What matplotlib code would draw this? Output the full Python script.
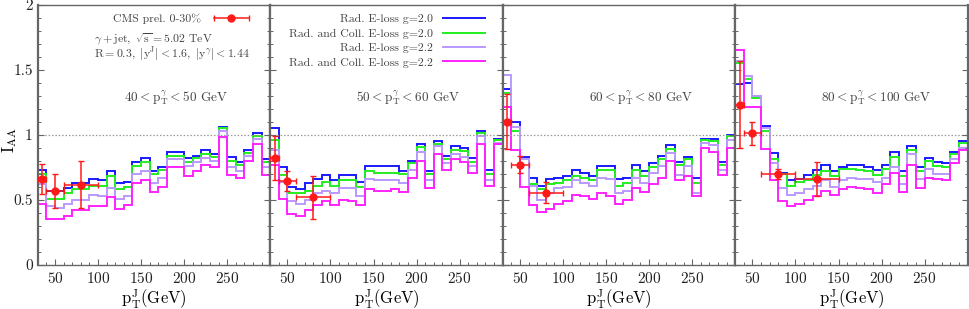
import numpy as np
import matplotlib
matplotlib.use('Agg')
import matplotlib.pyplot as plt
from matplotlib.ticker import MultipleLocator, FixedLocator
from matplotlib.lines import Line2D
from matplotlib.legend_handler import HandlerLine2D, HandlerTuple

plt.rcParams['font.family'] = 'cmr10'
plt.rcParams['mathtext.fontset'] = 'cm'
plt.rcParams['axes.formatter.use_mathtext'] = True

# ---------------- data ----------------
edges = np.arange(30, 301, 10)
panel_titles = [r'$40 < \mathrm{p_T^{\gamma}} < 50$ GeV',
                r'$50 < \mathrm{p_T^{\gamma}} < 60$ GeV',
                r'$60 < \mathrm{p_T^{\gamma}} < 80$ GeV',
                r'$80 < \mathrm{p_T^{\gamma}} < 100$ GeV']

rad_g20 = [
    [0.73, 0.57, 0.57, 0.59, 0.63, 0.63, 0.66, 0.65, 0.72, 0.63, 0.64, 0.79, 0.82, 0.72, 0.75,
     0.87, 0.87, 0.82, 0.84, 0.88, 0.85, 1.06, 0.83, 0.79, 0.88, 1.01, 0.81],
    [1.05, 0.75, 0.60, 0.58, 0.63, 0.66, 0.69, 0.65, 0.69, 0.69, 0.64, 0.76, 0.76, 0.76, 0.76,
     0.72, 0.80, 0.93, 0.72, 0.95, 0.84, 0.91, 0.90, 0.82, 1.03, 0.73, 0.97],
    [1.35, 1.10, 0.83, 0.67, 0.61, 0.66, 0.67, 0.68, 0.73, 0.71, 0.68, 0.76, 0.76, 0.66, 0.67,
     0.77, 0.72, 0.78, 0.84, 0.92, 0.79, 0.83, 0.67, 0.97, 0.97, 0.79, 1.00],
    [1.39, 1.40, 1.30, 1.07, 0.86, 0.71, 0.65, 0.66, 0.69, 0.73, 0.77, 0.72, 0.755, 0.77, 0.77,
     0.755, 0.73, 0.77, 0.87, 0.72, 0.91, 0.75, 0.82, 0.79, 0.78, 0.87, 0.95],
]
radcoll_g20 = [
    [0.70, 0.51, 0.51, 0.55, 0.58, 0.58, 0.61, 0.61, 0.68, 0.58, 0.60, 0.76, 0.79, 0.70, 0.73,
     0.84, 0.84, 0.79, 0.82, 0.85, 0.83, 1.05, 0.80, 0.77, 0.86, 0.99, 0.79],
    [0.96, 0.69, 0.55, 0.55, 0.57, 0.61, 0.64, 0.61, 0.65, 0.65, 0.60, 0.72, 0.71, 0.71, 0.71,
     0.70, 0.78, 0.905, 0.695, 0.93, 0.815, 0.885, 0.875, 0.79, 1.01, 0.70, 0.96],
    [1.32, 1.03, 0.81, 0.62, 0.58, 0.62, 0.63, 0.65, 0.68, 0.67, 0.65, 0.73, 0.73, 0.61, 0.63,
     0.73, 0.68, 0.75, 0.815, 0.89, 0.77, 0.81, 0.63, 0.96, 0.95, 0.77, 0.99],
    [1.55, 1.43, 1.28, 1.03, 0.81, 0.70, 0.61, 0.64, 0.65, 0.69, 0.72, 0.685, 0.74, 0.74, 0.73,
     0.72, 0.69, 0.74, 0.83, 0.685, 0.88, 0.72, 0.80, 0.76, 0.75, 0.85, 0.935],
]
rad_g22 = [
    [0.62, 0.45, 0.44, 0.47, 0.50, 0.50, 0.54, 0.53, 0.59, 0.51, 0.53, 0.70, 0.72, 0.63, 0.67,
     0.81, 0.81, 0.76, 0.79, 0.82, 0.80, 1.03, 0.75, 0.72, 0.84, 0.97, 0.75],
    [0.88, 0.64, 0.49, 0.47, 0.50, 0.55, 0.57, 0.55, 0.59, 0.59, 0.53, 0.66, 0.65, 0.65, 0.65,
     0.63, 0.73, 0.87, 0.65, 0.91, 0.78, 0.85, 0.83, 0.76, 0.99, 0.65, 0.94],
    [1.46, 1.06, 0.81, 0.61, 0.50, 0.55, 0.59, 0.60, 0.65, 0.63, 0.61, 0.67, 0.66, 0.55, 0.57,
     0.67, 0.63, 0.705, 0.76, 0.86, 0.69, 0.76, 0.55, 0.94, 0.92, 0.73, 0.96],
    [1.57, 1.45, 1.30, 1.05, 0.78, 0.59, 0.535, 0.55, 0.58, 0.61, 0.65, 0.60, 0.65, 0.67, 0.66,
     0.66, 0.64, 0.67, 0.75, 0.62, 0.85, 0.66, 0.74, 0.70, 0.70, 0.81, 0.90],
]
radcoll_g22 = [
    [0.47, 0.35, 0.35, 0.38, 0.42, 0.42, 0.45, 0.45, 0.52, 0.43, 0.46, 0.63, 0.65, 0.56, 0.60,
     0.75, 0.75, 0.68, 0.72, 0.77, 0.75, 0.98, 0.69, 0.67, 0.80, 0.93, 0.69],
    [0.77, 0.51, 0.39, 0.38, 0.42, 0.46, 0.49, 0.46, 0.50, 0.49, 0.46, 0.58, 0.57, 0.57, 0.58,
     0.56, 0.67, 0.80, 0.59, 0.85, 0.73, 0.81, 0.79, 0.71, 0.93, 0.61, 0.93],
    [1.21, 0.88, 0.60, 0.46, 0.41, 0.43, 0.47, 0.49, 0.54, 0.53, 0.51, 0.55, 0.53, 0.47, 0.50,
     0.59, 0.56, 0.62, 0.67, 0.80, 0.65, 0.68, 0.53, 0.90, 0.87, 0.69, 0.90],
    [1.65, 1.21, 1.21, 0.89, 0.65, 0.49, 0.45, 0.47, 0.50, 0.53, 0.57, 0.535, 0.58, 0.60, 0.595,
     0.58, 0.555, 0.62, 0.71, 0.56, 0.77, 0.59, 0.67, 0.66, 0.65, 0.78, 0.88],
]

# CMS preliminary points (0-30%)
cms_x = [[35, 50, 80], [35, 50, 80], [35, 50, 80], [35, 50, 80, 125]]
cms_xlo = [[30, 40, 60], [30, 40, 60], [30, 40, 60], [30, 40, 60, 100]]
cms_xhi = [[40, 60, 100], [40, 60, 100], [40, 60, 100], [40, 60, 100, 150]]
cms_y = [[0.66, 0.565, 0.615], [0.82, 0.645, 0.52], [1.10, 0.77, 0.556], [1.23, 1.01, 0.70, 0.66]]
cms_err = [[0.115, 0.13, 0.18], [0.17, 0.08, 0.165], [0.21, 0.065, 0.08], [0.335, 0.09, 0.04, 0.13]]

series_labels = ['Rad. E-loss g=2.0', 'Rad. and Coll. E-loss g=2.0',
                 'Rad. E-loss g=2.2', 'Rad. and Coll. E-loss g=2.2']
series_colors = ['#1a1aff', '#22ee22', '#bb99ff', '#ff22ff']
red = '#ff1a1a'
txt_col = '#444444'

# ---------------- figure ----------------
W, H = 969, 309
fig = plt.figure(figsize=(W / 100, H / 100), dpi=100)
left_px, right_px = 37.7, 967.7
top_px, bot_px = 4.5, 265.0
pw = (right_px - left_px) / 4
grey = '#666666'

axes = []
for i in range(4):
    ax = fig.add_axes([(left_px + i * pw) / W, 1 - bot_px / H, pw / W, (bot_px - top_px) / H])
    axes.append(ax)

for i, ax in enumerate(axes):
    series = [rad_g20[i], radcoll_g20[i], rad_g22[i], radcoll_g22[i]]
    for vals, c, lab in zip(series, series_colors, series_labels):
        ax.stairs(vals, edges, color=c, lw=1.4, label=lab, baseline=None)
    ax.axhline(1.0, color='#999999', lw=0.9, ls=(0, (1.2, 1.5)), zorder=1)
    x = np.array(cms_x[i]); y = np.array(cms_y[i])
    xerr = [x - np.array(cms_xlo[i]), np.array(cms_xhi[i]) - x]
    ax.errorbar(x, y, yerr=cms_err[i], xerr=xerr, fmt='o', color=red, ms=5,
                elinewidth=1.1, capsize=2, capthick=1.0, zorder=5)
    ax.set_xlim(30, 300)
    ax.set_ylim(0, 2)
    ax.xaxis.set_major_locator(FixedLocator([50, 100, 150, 200, 250]))
    ax.xaxis.set_minor_locator(MultipleLocator(10))
    ax.yaxis.set_major_locator(MultipleLocator(0.5))
    ax.yaxis.set_minor_locator(MultipleLocator(0.1))
    ax.tick_params(which='both', direction='in', left=True, right=True, top=False,
                   bottom=True, color=grey, labelsize=11, labelcolor='#222222')
    ax.tick_params(which='major', length=4, width=0.8)
    ax.tick_params(which='minor', length=2.5, width=0.7)
    ax.tick_params(axis='x', pad=4)
    for s in ax.spines.values():
        s.set_color(grey)
        s.set_linewidth(1.0)
    ax.spines['left'].set_linewidth(1.6)
    ax.spines['right'].set_linewidth(1.6)
    if i > 0:
        ax.set_yticklabels([])
    else:
        ax.set_yticks([0, 0.5, 1, 1.5, 2])
        ax.set_yticklabels(['0', '0.5', '1', '1.5', '2'])
    ax.set_xlabel(r'$\mathrm{p_T^J(GeV)}$', fontsize=12, labelpad=1)
    ax.text(0.37, 0.642, panel_titles[i], transform=ax.transAxes, ha='left', va='center',
            fontsize=9.5, color=txt_col)

fig.text(10 / W, 1 - 140 / H, r'$\mathrm{I_{AA}}$', rotation=90, ha='center', va='center',
         fontsize=12)

# CMS legend in panel 1 (horizontal bar with caps and a point)
ax0 = axes[0]
cap_line = Line2D([], [], color=red, lw=1.1, marker='|', ms=5, mew=1.0)
pt = Line2D([], [], color=red, ls='none', marker='o', ms=5)
leg0 = ax0.legend(handles=[(cap_line, pt)], labels=['CMS prel. 0-30%'],
                  handler_map={cap_line: HandlerLine2D(numpoints=2),
                               pt: HandlerLine2D(numpoints=1),
                               tuple: HandlerTuple(ndivide=1, pad=0)},
                  loc='upper right', bbox_to_anchor=(0.935, 0.975),
                  frameon=False, markerfirst=False, fontsize=8.5, handlelength=3.6,
                  handletextpad=0.8, borderpad=0.2, borderaxespad=0)
for t in leg0.get_texts():
    t.set_color(txt_col)
ax0.text(0.24, 0.866, r'$\gamma + \mathrm{jet},\ \sqrt{\mathrm{s}} = 5.02$ TeV', transform=ax0.transAxes,
         ha='left', va='center', fontsize=8.5, color=txt_col)
ax0.text(0.24, 0.805, r'$\mathrm{R} = 0.3,\ |\mathrm{y^J}| < 1.6,\ |\mathrm{y^{\gamma}}| < 1.44$',
         transform=ax0.transAxes, ha='left', va='center', fontsize=8.5, color=txt_col)

# model legend in panel 2
ax1 = axes[1]
lh = [Line2D([], [], color=c, lw=1.4) for c in series_colors]
leg1 = ax1.legend(lh, series_labels, loc='upper right', bbox_to_anchor=(0.935, 0.972),
                  frameon=False, markerfirst=False, fontsize=8.5, handlelength=3.6,
                  handletextpad=0.8, labelspacing=0.35, borderpad=0.2, borderaxespad=0)
for t in leg1.get_texts():
    t.set_color(txt_col)

fig.savefig('out.png', dpi=100)
